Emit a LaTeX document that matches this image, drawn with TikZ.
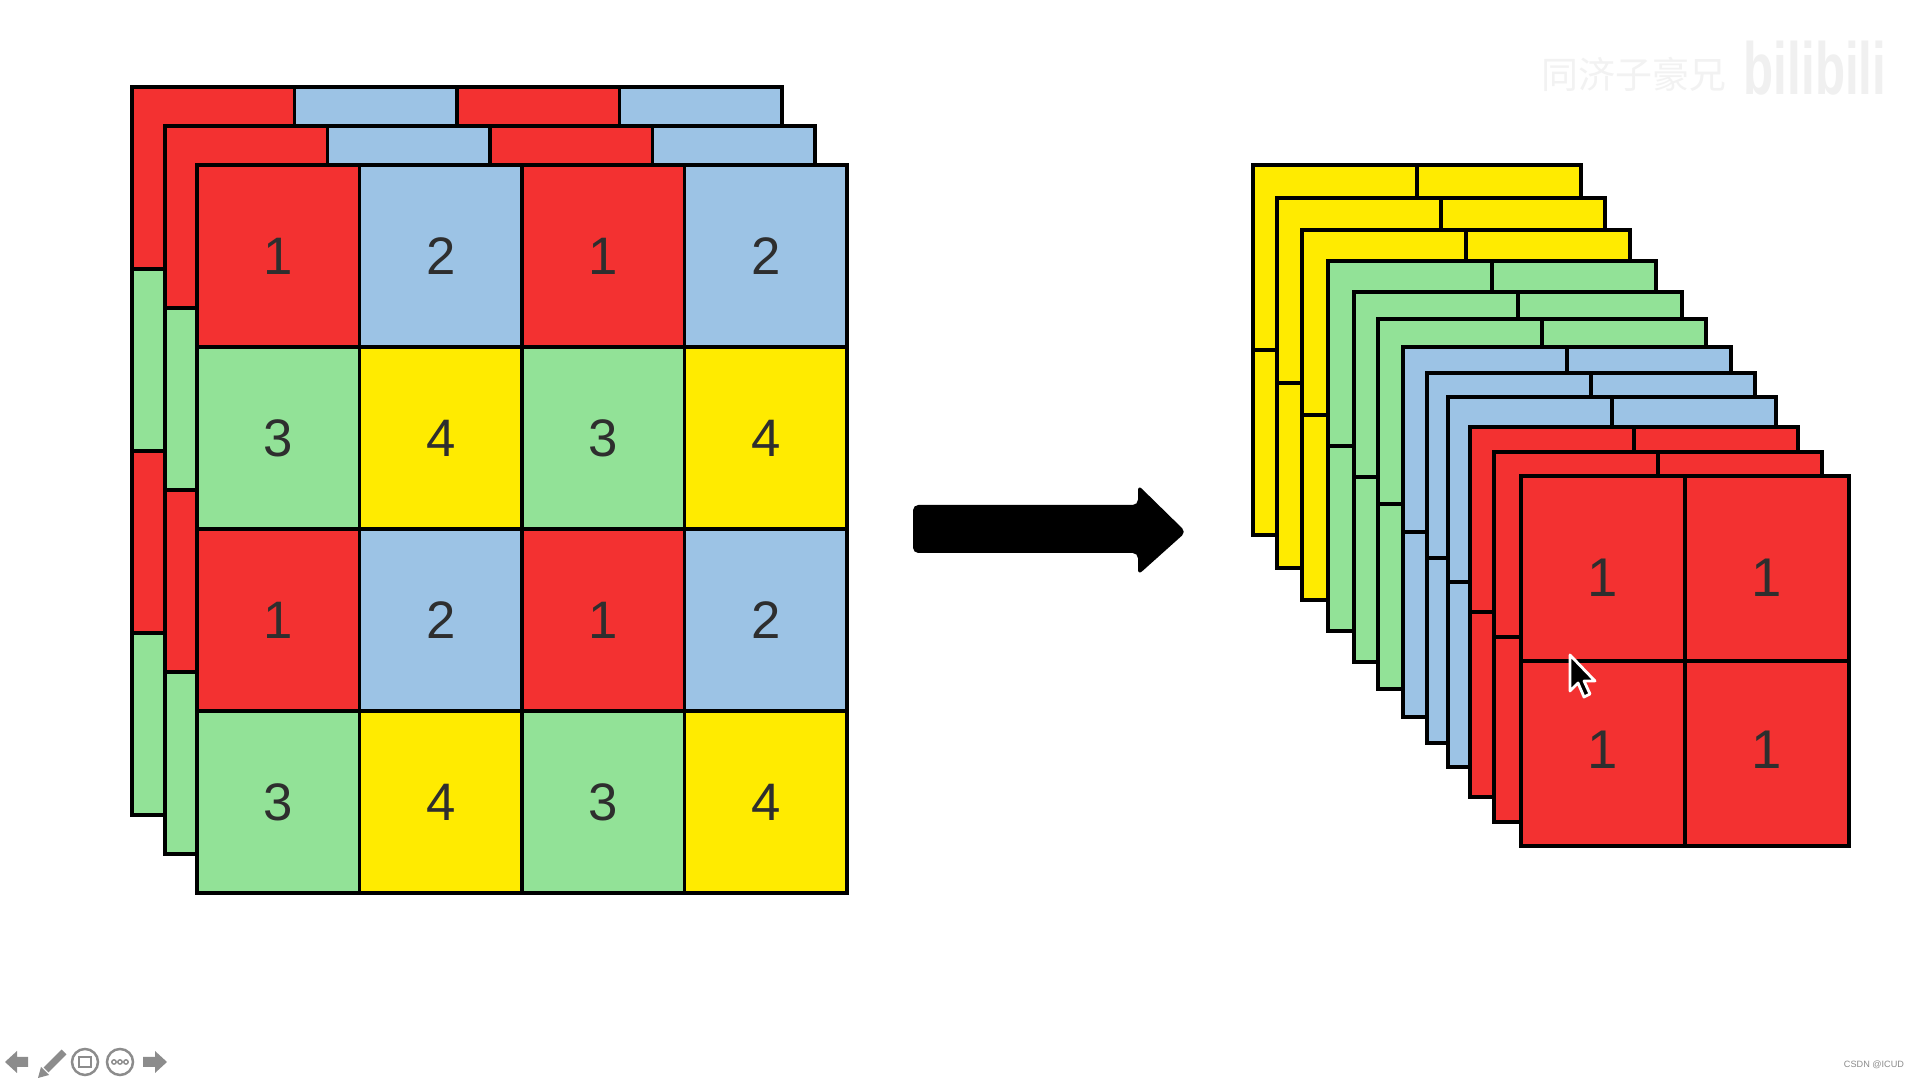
\documentclass[tikz,border=0pt]{standalone}
\usepackage{fontspec}
\setmainfont{Liberation Sans}
\newfontfamily\cjk{Noto Sans CJK SC}

\definecolor{rot}{HTML}{F33131}
\definecolor{blau}{HTML}{9CC3E5}
\definecolor{gruen}{HTML}{92E297}
\definecolor{gelb}{HTML}{FFEB00}
\definecolor{ziffer}{HTML}{2E2E2E}
\definecolor{knopf}{HTML}{8C8C8C}

\tikzset{
  zelle/.style={draw, line width=1pt, anchor=north west, inner sep=0pt, outer sep=0pt,
    minimum width=1.625cm, minimum height=1.82cm, text=ziffer, font=\fontsize{15}{18}\selectfont},
  kachel/.style={zelle, minimum width=1.64cm, minimum height=1.85cm, font=\fontsize{15.5}{18}\selectfont,
    text height=0.39cm, text depth=0pt},
  knopfkreis/.style={draw=knopf, line width=0.7pt},
}

\begin{document}
\begin{tikzpicture}[x=0.01cm, y=-0.01cm]
    \fill[white] (0,0) rectangle (1920,1080);
    \useasboundingbox (0,0) rectangle (1920,1080);
    % linker Stapel: 3 Ebenen 4x4
    \foreach \lx/\ly [count=\l] in {132/87, 165/126, 197/165} {
      \foreach \r/\fa/\fb/\za/\zb in {0/rot/blau/1/2, 1/gruen/gelb/3/4, 2/rot/blau/1/2, 3/gruen/gelb/3/4} {
        \foreach \s/\f/\z in {0/\fa/\za, 1/\fb/\zb, 2/\fa/\za, 3/\fb/\zb} {
          \node[zelle, fill=\f] (links-\l-\r-\s) at (\lx+\s*162.5, \ly+\r*182) {\ifnum\l=3 \z\fi};
        }
      }
    }
    % Pfeil
    \fill[black, rounded corners=1.5pt] (913,505) -- (1138,505) -- (1138,485) -- (1186,532)
      -- (1138,575) -- (1138,553) -- (913,553) -- cycle;
    % rechter Stapel: 12 Ebenen 2x2
    \foreach \lx/\ly/\f [count=\l] in {1253/165/gelb, 1277/198/gelb, 1302/230/gelb,
        1328/261/gruen, 1354/292/gruen, 1378/319/gruen,
        1403/347/blau, 1427/373/blau, 1448/397/blau,
        1470/427/rot, 1494/452/rot, 1521/476/rot} {
      \foreach \r/\h in {0/-0.08cm, 1/0.05cm} {
        \foreach \s in {0,1} {
          \node[kachel, fill=\f] (rechts-\l-\r-\s) at (\lx+\s*164, \ly+\r*185) {\ifnum\l=12 \raisebox{\h}{1}\fi};
        }
      }
    }
    % Mauszeiger
    \filldraw[fill=black, draw=white, line width=0.8pt, line join=round] (1570,655) -- (1570,691)
      -- (1578,683) -- (1584,697) -- (1590,694) -- (1584,681) -- (1595,681) -- cycle;
    % Wasserzeichen
    \node[text=white!95!black, font=\cjk\fontsize{10.5}{12}\selectfont] (wz-text) at (1634,74) {同济子豪兄};
    \node[text=white!94!black, font=\bfseries\fontsize{14}{16}\selectfont, yscale=1.5] (wz-logo) at (1815,68) {bilibili};
    % Knoepfe unten links
    \fill[knopf] (5,1062) -- (17,1051) -- (17,1057) -- (28,1057) -- (28,1067) -- (17,1067) -- (17,1073) -- cycle;
    \draw[knopf, line width=2pt] (46,1070) -- (64,1052);
    \fill[knopf] (38,1078) -- (41,1067) -- (49,1075) -- cycle;
    \draw[knopfkreis] (85,1062) circle[radius=0.13cm];
    \draw[knopfkreis, line width=0.5pt] (79,1057) rectangle (91,1067);
    \draw[knopfkreis] (120,1062) circle[radius=0.13cm];
    \foreach \d in {114,120,126} \draw[knopfkreis, line width=0.4pt] (\d,1062) circle[radius=0.022cm];
    \fill[knopf] (167,1062) -- (155,1051) -- (155,1057) -- (143,1057) -- (143,1067) -- (155,1067) -- (155,1073) -- cycle;
    % Quelle
    \node[text=knopf, font=\fontsize{2.6}{3}\selectfont] (quelle) at (1874,1065) {CSDN @ICUD};
\end{tikzpicture}
\end{document}
